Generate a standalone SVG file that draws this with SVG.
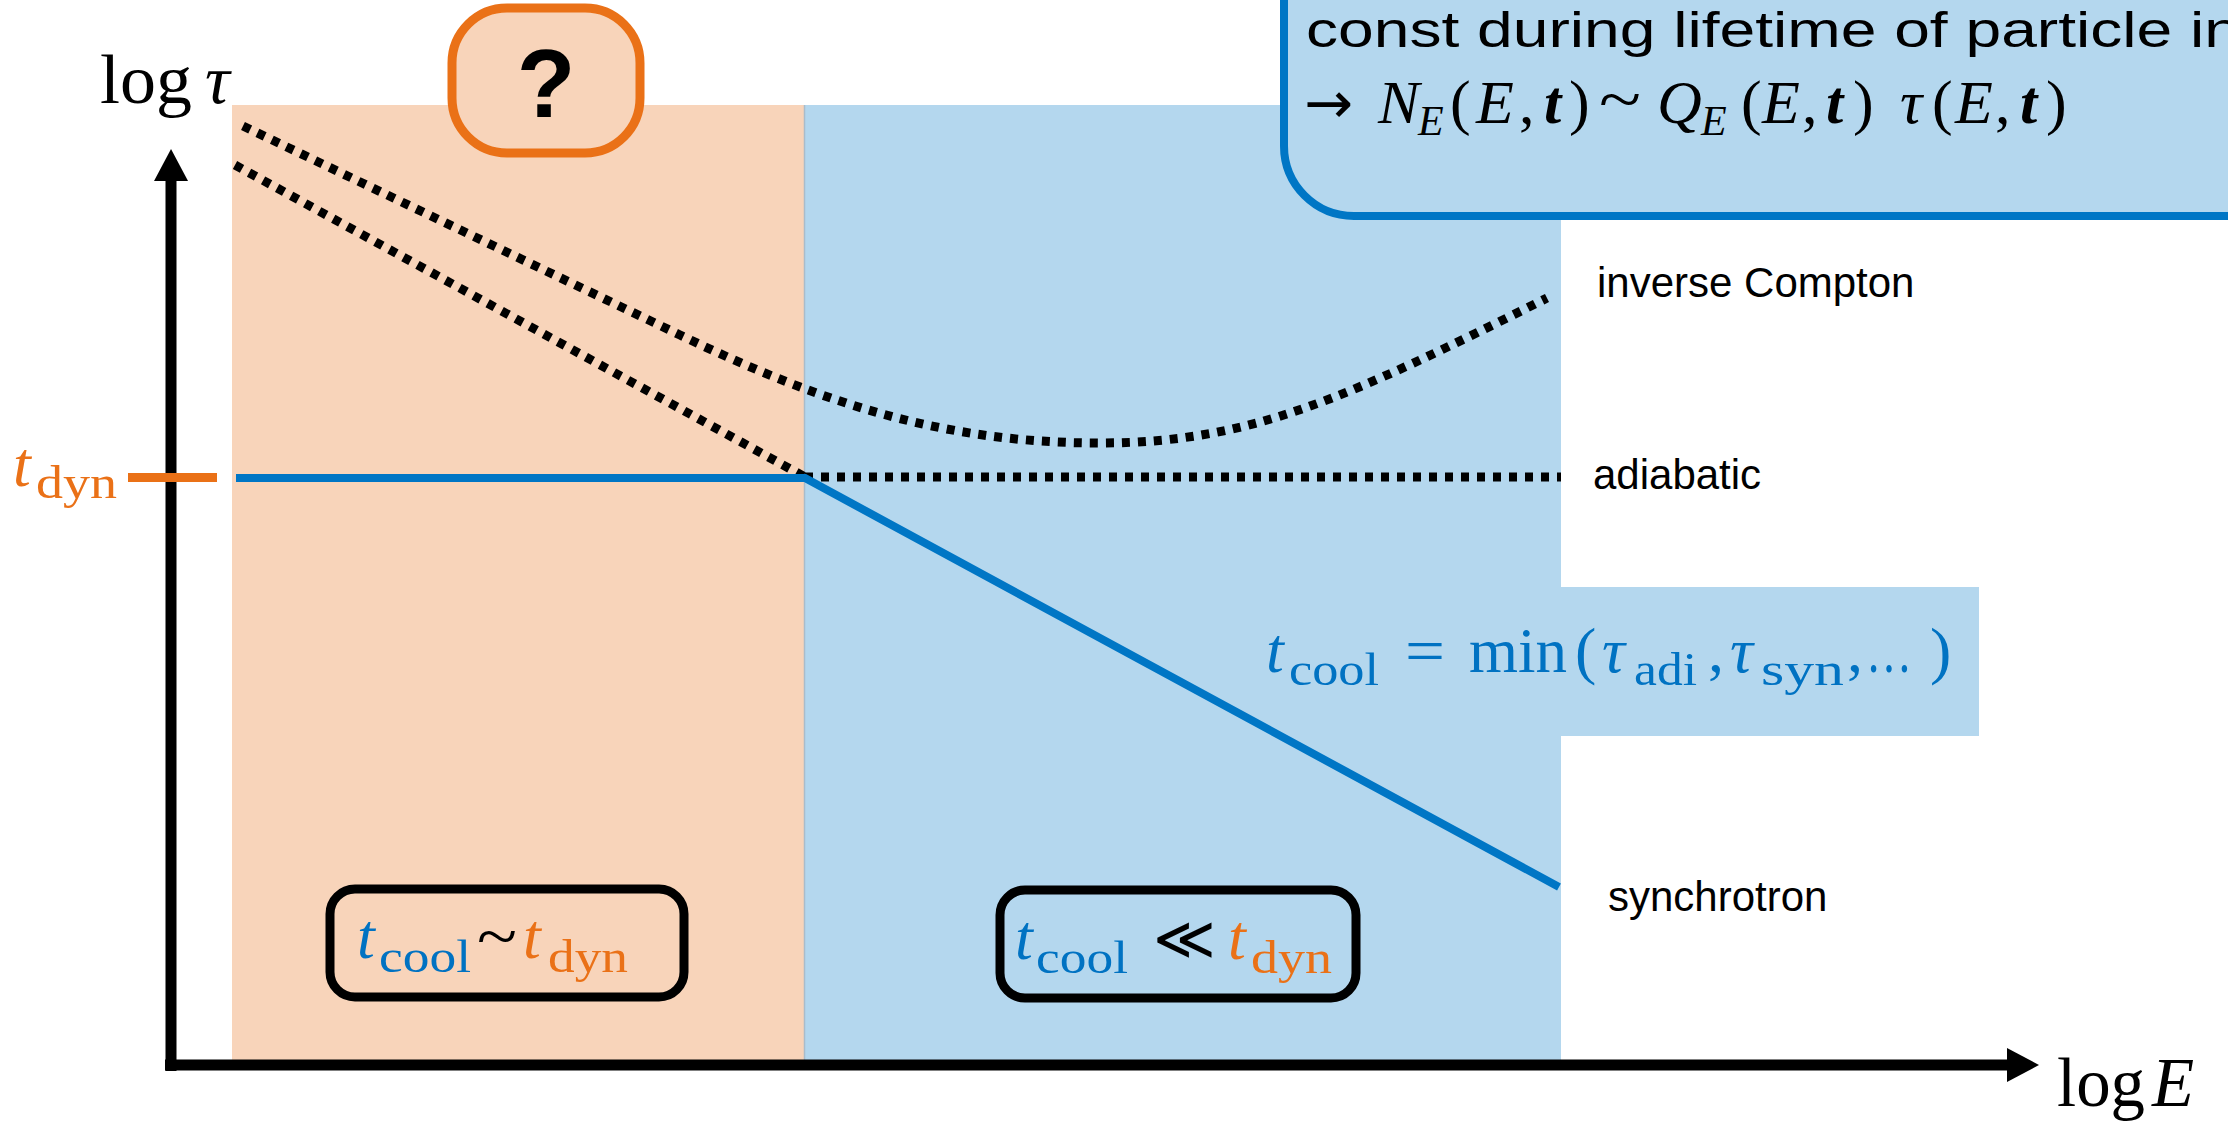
<svg xmlns="http://www.w3.org/2000/svg" width="2228" height="1129" viewBox="0 0 2228 1129">
<style>
.sans{font-family:"Liberation Sans",Arial,sans-serif}
.ser{font-family:"Liberation Serif","DejaVu Serif",serif}
.it{font-style:italic}
.lbl{font-family:"Liberation Sans",Arial,sans-serif;font-size:42px;fill:#000}
.blue{fill:#0072C2}
.orng{fill:#EA7117}
.dot{fill:none;stroke:#000;stroke-width:9;stroke-dasharray:8 8}
.m{font-size:64px}
.s{font-size:46px}
</style>
<defs>
<marker id="ah" markerWidth="32" markerHeight="34" refX="0" refY="0" orient="auto" markerUnits="userSpaceOnUse" viewBox="0 -17 32 34">
<path d="M0,-17 L32,0 L0,17 Z" fill="#000"/>
</marker>
</defs>
<rect width="2228" height="1129" fill="#fff"/>
<g id="regions">
<rect x="232" y="105" width="572" height="960" fill="#F8D4BA"/>
<rect x="804" y="105" width="757" height="960" fill="#B4D7EE"/>
<rect x="1561" y="587" width="418" height="149" fill="#B4D7EE"/>
<line x1="804.5" y1="105" x2="804.5" y2="1060" stroke="#A9BCCB" stroke-width="1.5"/>
</g>
<g id="note-box">
<rect x="1284" y="-100" width="1100" height="316" rx="70" ry="70" fill="#B4D7EE" stroke="#0076C5" stroke-width="8"/>
<text class="sans" x="1306" y="47" font-size="50" textLength="934" lengthAdjust="spacingAndGlyphs">const during lifetime of particle in</text>
<text x="1304" y="123" font-family="'DejaVu Sans',sans-serif" font-size="58" textLength="49" lengthAdjust="spacingAndGlyphs">→</text>
<text class="ser" font-size="62" y="123"><tspan x="1378" class="it">N</tspan><tspan x="1418" y="135" class="it" font-size="42">E</tspan><tspan x="1450" y="123">(</tspan><tspan x="1476" class="it">E</tspan><tspan x="1519">,</tspan><tspan x="1544" class="it" font-weight="bold">t</tspan><tspan x="1569">)</tspan><tspan x="1657" class="it">Q</tspan><tspan x="1701" y="135" class="it" font-size="42">E</tspan><tspan x="1741" y="123">(</tspan><tspan x="1762" class="it">E</tspan><tspan x="1802">,</tspan><tspan x="1826" class="it" font-weight="bold">t</tspan><tspan x="1853">)</tspan><tspan x="1900" class="it">τ</tspan><tspan x="1932">(</tspan><tspan x="1955" class="it">E</tspan><tspan x="1995">,</tspan><tspan x="2020" class="it" font-weight="bold">t</tspan><tspan x="2046">)</tspan></text>
<text class="ser" x="1599" y="121" font-size="64" textLength="42" lengthAdjust="spacingAndGlyphs">~</text>
</g>
<g id="question-box">
<rect x="452" y="8" width="188" height="145" rx="55" ry="55" fill="#F8D4BA" stroke="#EA7117" stroke-width="9"/>
<text class="sans" x="546" y="117" font-size="96" font-weight="bold" text-anchor="middle">?</text>
</g>
<g id="connectors">
<path class="dot" d="M243,126 L680,335 C830,407 950,443 1100,443 C1250,443 1347,398 1547,298"/>
<path class="dot" d="M235,165 L805,477"/>
<path class="dot" d="M805,477 L1561,477"/>
<path d="M236,478 L805,478 L1559,887" fill="none" stroke="#0076C5" stroke-width="8" stroke-linejoin="miter"/>
</g>
<g id="axes">
<line x1="171" y1="1071" x2="171" y2="181" stroke="#000" stroke-width="11" marker-end="url(#ah)"/>
<line x1="165" y1="1065" x2="2007" y2="1065" stroke="#000" stroke-width="11" marker-end="url(#ah)"/>
<line x1="128" y1="477.5" x2="217" y2="477.5" stroke="#EA7117" stroke-width="9"/>
</g>
<g id="axis-labels">
<text class="ser" x="100" y="103" font-size="69" textLength="92" lengthAdjust="spacingAndGlyphs">log</text>
<text class="ser it" x="205" y="103" font-size="69">τ</text>
<text class="ser" x="2057" y="1106" font-size="69" textLength="88" lengthAdjust="spacingAndGlyphs">log</text>
<text class="ser it" x="2152" y="1106" font-size="69">E</text>
<text class="ser it m orng" x="13" y="486">t</text>
<text class="ser s orng" x="36" y="498" textLength="81" lengthAdjust="spacingAndGlyphs">dyn</text>
</g>
<g id="curve-labels">
<text class="lbl" x="1597" y="297">inverse Compton</text>
<text class="lbl" x="1593" y="489">adiabatic</text>
<text class="lbl" x="1608" y="911">synchrotron</text>
</g>
<g id="formula">
<text class="ser it m blue" x="1266" y="672">t</text>
<text class="ser s blue" x="1289" y="685" textLength="90" lengthAdjust="spacingAndGlyphs">cool</text>
<text class="ser m blue" x="1405" y="672" textLength="40" lengthAdjust="spacingAndGlyphs">=</text>
<text class="ser m blue" x="1469" y="672" textLength="98" lengthAdjust="spacingAndGlyphs">min</text>
<text class="ser m blue" x="1575" y="672">(</text>
<text class="ser it m blue" x="1602" y="672">τ</text>
<text class="ser s blue" x="1634" y="685" textLength="63" lengthAdjust="spacingAndGlyphs">adi</text>
<text class="ser m blue" x="1708" y="672">,</text>
<text class="ser it m blue" x="1730" y="672">τ</text>
<text class="ser s blue" x="1761" y="685" textLength="83" lengthAdjust="spacingAndGlyphs">syn</text>
<text class="ser m blue" x="1847" y="672">,</text>
<text class="ser m blue" x="1866" y="672" textLength="46" lengthAdjust="spacingAndGlyphs">…</text>
<text class="ser m blue" x="1930" y="672">)</text>
</g>
<g id="box-similar">
<rect x="330" y="889" width="354" height="108" rx="25" ry="25" fill="none" stroke="#000" stroke-width="9"/>
<text class="ser it m blue" x="357" y="958">t</text>
<text class="ser s blue" x="379" y="972" textLength="92" lengthAdjust="spacingAndGlyphs">cool</text>
<text class="ser m" x="477" y="958" textLength="40" lengthAdjust="spacingAndGlyphs">~</text>
<text class="ser it m orng" x="523" y="958">t</text>
<text class="ser s orng" x="548" y="972" textLength="80" lengthAdjust="spacingAndGlyphs">dyn</text>
</g>
<g id="box-much-less">
<rect x="1000" y="890" width="356" height="108" rx="25" ry="25" fill="none" stroke="#000" stroke-width="9"/>
<text class="ser it m blue" x="1015" y="959">t</text>
<text class="ser s blue" x="1036" y="973" textLength="92" lengthAdjust="spacingAndGlyphs">cool</text>
<text class="ser" x="1153" y="959" font-size="60">≪</text>
<text class="ser it m orng" x="1228" y="959">t</text>
<text class="ser s orng" x="1251" y="973" textLength="81" lengthAdjust="spacingAndGlyphs">dyn</text>
</g>
</svg>
